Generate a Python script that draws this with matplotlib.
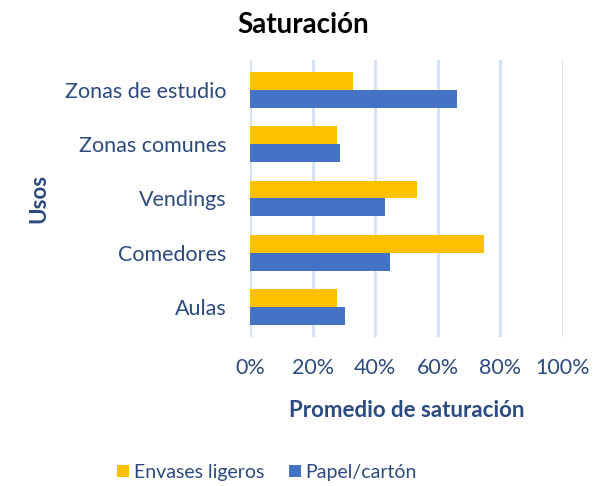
import numpy as np
import matplotlib.pyplot as plt
from matplotlib.ticker import PercentFormatter

usos = ["Aulas", "Comedores", "Vendings", "Zonas comunes", "Zonas de estudio"]
envases = [0.278, 0.748, 0.533, 0.278, 0.328]
papel = [0.303, 0.448, 0.430, 0.286, 0.662]
xticks = [0, 0.2, 0.4, 0.6, 0.8, 1.0]

plt.rcParams["font.family"] = ["Lato", "DejaVu Sans"]
txt = "#2A4A80"

fig = plt.figure(figsize=(6.07, 4.86), dpi=100)
ax = fig.add_axes([0.412, 0.3066, 0.5155, 0.57])

y = np.arange(len(usos))
h = 0.33
ax.barh(y + h / 2, envases, height=h, color="#FFC000", label="Envases ligeros", zorder=3)
ax.barh(y - h / 2, papel, height=h, color="#4472C4", label="Papel/cartón", zorder=3)

ax.set_xlim(0, 1.0)
ax.set_ylim(-0.55, len(usos) - 0.45)
ax.set_xticks(xticks)
ax.xaxis.set_major_formatter(PercentFormatter(1.0, decimals=0))
ax.set_yticks(y)
ax.set_yticklabels(usos)
ax.grid(axis="x", color="#D5E3F4", linewidth=2.2, zorder=0)
for s in ax.spines.values():
    s.set_visible(False)
ax.tick_params(length=0, labelsize=15.5, labelcolor=txt)
ax.tick_params(axis="x", pad=15)
ax.tick_params(axis="y", pad=17)

ax.set_xlabel("Promedio de saturación", fontsize=16, fontweight="bold", color=txt, labelpad=16)
ax.set_ylabel("Usos", fontsize=16, fontweight="bold", color=txt)
fig.suptitle("Saturación", fontsize=20, fontweight="bold", y=0.975)
ax.yaxis.set_label_coords(-0.64, 0.5)

fig.legend(loc="lower center", bbox_to_anchor=(0.44, -0.025), ncol=2, frameon=False,
           fontsize=14, labelcolor=txt, handlelength=0.6, handleheight=0.6,
           columnspacing=1.3, handletextpad=0.25)

fig.savefig("out.png", dpi=100)
